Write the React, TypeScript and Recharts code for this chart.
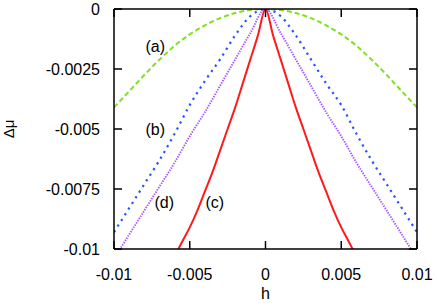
import { LineChart, Line, XAxis, YAxis, ReferenceDot, Label } from "recharts";

// h grid shared by curves (a), (b), (d)
const hGrid = [
  -0.01, -0.009, -0.008, -0.007, -0.006, -0.005, -0.004, -0.003, -0.002, -0.001, 0,
  0.001, 0.002, 0.003, 0.004, 0.005, 0.006, 0.007, 0.008, 0.009, 0.01,
];
const muA = [
  -0.0041, -0.00343, -0.00275, -0.00211, -0.00153, -0.00106, -0.00068, -0.00038, -0.00017, -0.00004, 0,
  -0.00004, -0.00017, -0.00038, -0.00068, -0.00106, -0.00153, -0.00211, -0.00275, -0.00343, -0.0041,
];
const muB = [
  -0.0093, -0.0083, -0.0073, -0.0063, -0.0052, -0.004, -0.003, -0.0021, -0.0011, -0.0003, 0,
  -0.0003, -0.0011, -0.0021, -0.0031, -0.004, -0.0052, -0.0063, -0.0073, -0.0083, -0.0093,
];
const muD = [
  -0.0104, -0.0094, -0.0084, -0.0074, -0.0064, -0.0053, -0.0043, -0.0032, -0.0021, -0.001, 0,
  -0.001, -0.0021, -0.0032, -0.0043, -0.0053, -0.0064, -0.0074, -0.0084, -0.0094, -0.0104,
];

// curve (c) is much steeper, finer grid
const hC = [
  -0.006, -0.0055, -0.005, -0.0045, -0.004, -0.0035, -0.003, -0.0025, -0.002, -0.0015, -0.001, -0.0005, 0,
  0.0005, 0.001, 0.0015, 0.002, 0.0025, 0.003, 0.0035, 0.004, 0.0045, 0.005, 0.0055, 0.006,
];
const muC = [
  -0.0103, -0.0097, -0.0091, -0.0084, -0.0076, -0.0068, -0.0059, -0.005, -0.0041, -0.0031, -0.0021, -0.0011, 0,
  -0.0011, -0.0021, -0.0031, -0.0041, -0.005, -0.0059, -0.0068, -0.0076, -0.0084, -0.0091, -0.0097, -0.0103,
];

const xTicks = [-0.01, -0.005, 0, 0.005, 0.01];
const yTicks = [0, -0.0025, -0.005, -0.0075, -0.01];

const curveLabels = [
  { text: "(a)", h: -0.00728, mu: -0.00157 },
  { text: "(b)", h: -0.00728, mu: -0.00503 },
  { text: "(d)", h: -0.00668, mu: -0.00807 },
  { text: "(c)", h: -0.00335, mu: -0.00807 },
];

const toPoints = (hs: number[], mus: number[]) => hs.map((h, i) => ({ h, mu: mus[i] }));

const FONT = "'Liberation Sans', Arial, Helvetica, sans-serif";
const TICK_LEN = 8;
const X_MARGIN = 20;
const Y_MARGIN = 14;

// gnuplot-style ticks: mark points into the plot, label sits outside
function BottomTick(props: any) {
  const { x, y, payload } = props;
  const base = y - X_MARGIN;
  return (
    <g>
      <line x1={x} x2={x} y1={base} y2={base - TICK_LEN} stroke="#000" strokeWidth={1.5} />
      <text x={x} y={y} dy="0.71em" textAnchor="middle" fontSize={16} fontFamily={FONT} fill="#000">
        {String(payload.value)}
      </text>
    </g>
  );
}

function TopTick(props: any) {
  const { x, y } = props;
  return <line x1={x} x2={x} y1={y} y2={y + TICK_LEN} stroke="#000" strokeWidth={1.5} />;
}

function LeftTick(props: any) {
  const { x, y, payload } = props;
  const base = x + Y_MARGIN;
  return (
    <g>
      <line x1={base} x2={base + TICK_LEN} y1={y} y2={y} stroke="#000" strokeWidth={1.5} />
      <text x={x} y={y} dy="0.36em" textAnchor="end" fontSize={16} fontFamily={FONT} fill="#000">
        {String(payload.value)}
      </text>
    </g>
  );
}

function RightTick(props: any) {
  const { x, y } = props;
  return <line x1={x} x2={x - TICK_LEN} y1={y} y2={y} stroke="#000" strokeWidth={1.5} />;
}

export default function App() {
  const dataA = toPoints(hGrid, muA);
  const dataB = toPoints(hGrid, muB);
  const dataD = toPoints(hGrid, muD);
  const dataC = toPoints(hC, muC);

  return (
    <div style={{ position: "absolute", left: 0, top: 0, background: "#fff" }}>
      <LineChart width={437} height={308} margin={{ top: 8, right: 19, bottom: 0, left: 0 }}>
        <XAxis
          xAxisId="bottom"
          dataKey="h"
          type="number"
          domain={[-0.01, 0.01]}
          ticks={xTicks}
          allowDataOverflow
          height={59}
          tickSize={0}
          tickLine={false}
          tickMargin={X_MARGIN}
          tick={<BottomTick />}
          stroke="#000"
          strokeWidth={1.5}
        >
          <Label value="h" position="insideBottom" offset={9} style={{ fontSize: 16, fill: "#000", fontFamily: FONT }} />
        </XAxis>
        <XAxis
          xAxisId="top"
          orientation="top"
          dataKey="h"
          type="number"
          domain={[-0.01, 0.01]}
          ticks={xTicks}
          allowDataOverflow
          height={1}
          tickSize={0}
          tickLine={false}
          tickMargin={0}
          tick={<TopTick />}
          stroke="#000"
          strokeWidth={1.5}
        />
        <YAxis
          yAxisId="left"
          type="number"
          domain={[-0.01, 0]}
          ticks={yTicks}
          allowDataOverflow
          width={114}
          tickSize={0}
          tickLine={false}
          tickMargin={Y_MARGIN}
          tick={<LeftTick />}
          stroke="#000"
          strokeWidth={1.5}
        >
          <Label
            value="Δμ"
            angle={-90}
            position="insideLeft"
            offset={9}
            style={{ fontSize: 15, fill: "#000", fontFamily: FONT, textAnchor: "middle" }}
          />
        </YAxis>
        <YAxis
          yAxisId="right"
          orientation="right"
          type="number"
          domain={[-0.01, 0]}
          ticks={yTicks}
          allowDataOverflow
          width={1}
          tickSize={0}
          tickLine={false}
          tickMargin={0}
          tick={<RightTick />}
          stroke="#000"
          strokeWidth={1.5}
        />

        <Line
          xAxisId="bottom"
          yAxisId="left"
          data={dataA}
          dataKey="mu"
          type="monotone"
          stroke="#7ee21e"
          strokeWidth={2}
          strokeDasharray="5 3"
          dot={false}
          isAnimationActive={false}
        />
        <Line
          xAxisId="bottom"
          yAxisId="left"
          data={dataB}
          dataKey="mu"
          type="monotone"
          stroke="#2255ff"
          strokeWidth={2.2}
          strokeDasharray="2.2 4.5"
          dot={false}
          isAnimationActive={false}
        />
        <Line
          xAxisId="bottom"
          yAxisId="left"
          data={dataD}
          dataKey="mu"
          type="monotone"
          stroke="#a855ff"
          strokeWidth={1.9}
          strokeDasharray="1.4 1.2"
          dot={false}
          isAnimationActive={false}
        />
        <Line
          xAxisId="bottom"
          yAxisId="left"
          data={dataC}
          dataKey="mu"
          type="monotone"
          stroke="#ff1a1a"
          strokeWidth={2}
          dot={false}
          isAnimationActive={false}
        />

        {curveLabels.map((l) => (
          <ReferenceDot
            key={l.text}
            xAxisId="bottom"
            yAxisId="left"
            x={l.h}
            y={l.mu}
            r={0}
            stroke="none"
            fill="none"
            label={{ value: l.text, position: "center", fontSize: 16, fill: "#000", fontFamily: FONT }}
          />
        ))}
      </LineChart>
    </div>
  );
}
